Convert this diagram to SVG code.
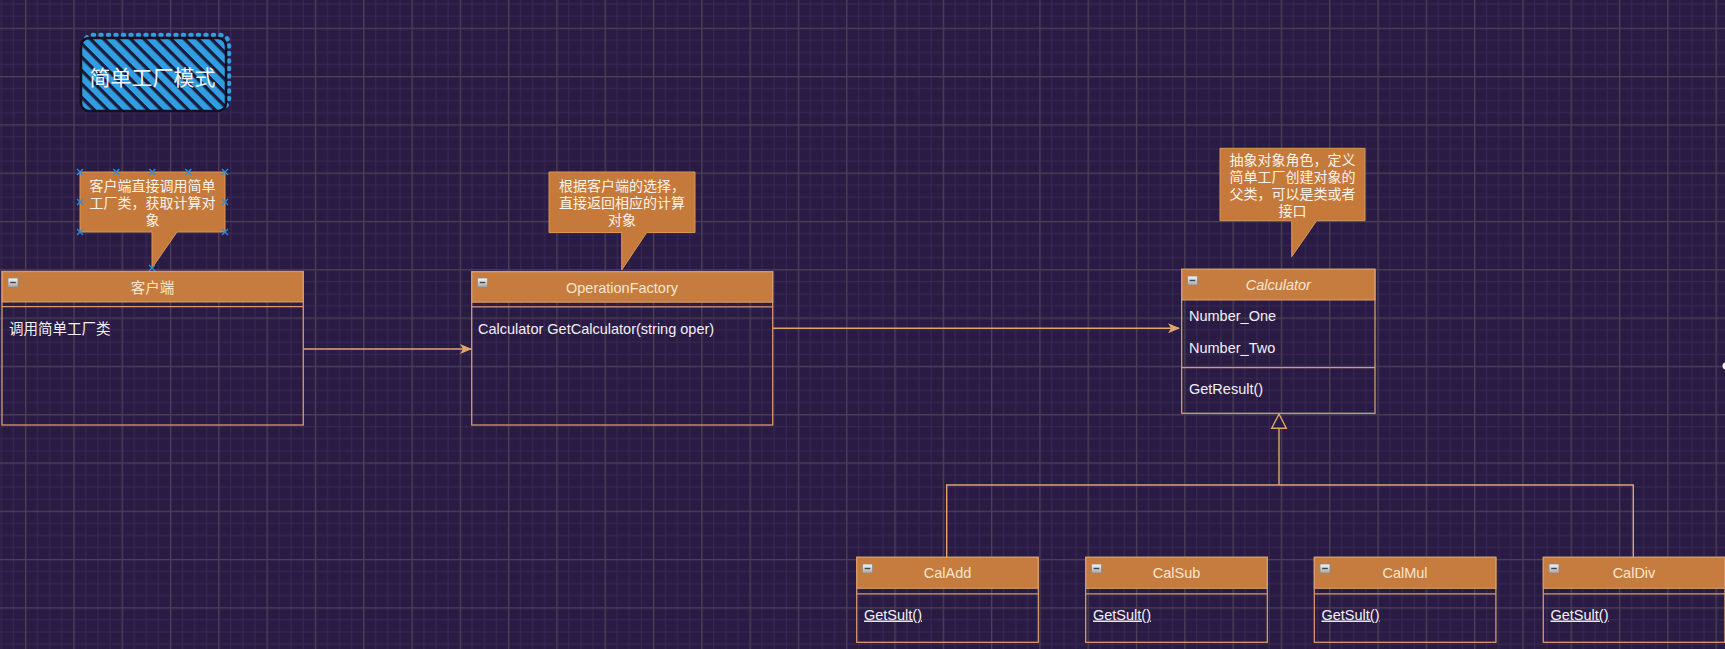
<svg xmlns="http://www.w3.org/2000/svg" width="1725" height="649" viewBox="0 0 1725 649">
  <defs>
    <pattern id="grid" x="25" y="27.7" width="48.3" height="48.3" patternUnits="userSpaceOnUse">
      <rect x="0" y="0" width="48.3" height="48.3" fill="#2a1b44"/>
      <g fill="#382a52">
        <rect x="12.07" y="0" width="1" height="48.3"/>
        <rect x="24.15" y="0" width="1" height="48.3"/>
        <rect x="36.22" y="0" width="1" height="48.3"/>
        <rect x="0" y="12.07" width="48.3" height="1"/>
        <rect x="0" y="24.15" width="48.3" height="1"/>
        <rect x="0" y="36.22" width="48.3" height="1"/>
      </g>
      <g fill="#4a4156">
        <rect x="0" y="0" width="1.3" height="48.3"/>
        <rect x="0" y="0" width="48.3" height="1.3"/>
      </g>
    </pattern>
    <pattern id="hatch" x="0" y="0" width="9.5" height="20" patternUnits="userSpaceOnUse" patternTransform="rotate(-45)">
      <rect x="0" y="0" width="9.5" height="20" fill="#1d1a3c"/>
      <rect x="0" y="0" width="6.2" height="20" fill="#2f9fe2"/>
    </pattern>
    <linearGradient id="btn" x1="0" y1="0" x2="0" y2="1">
      <stop offset="0" stop-color="#f6f6f6"/>
      <stop offset="1" stop-color="#a9a9a9"/>
    </linearGradient>
    <marker id="arrow" viewBox="0 0 12 10" refX="11" refY="5" markerWidth="12" markerHeight="10" markerUnits="userSpaceOnUse" orient="auto">
      <path d="M0,0 L12,5 L0,10 L3,5 Z" fill="#e0a66c"/>
    </marker>
    <g id="minus">
      <rect x="0" y="0" width="10" height="9" rx="1" fill="url(#btn)" stroke="#8a8a8a" stroke-width="0.8"/>
      <line x1="2.2" y1="4.5" x2="7.8" y2="4.5" stroke="#444" stroke-width="1.4"/>
    </g>
    <g id="xmark">
      <path d="M-3,-3 L3,3 M-3,3 L3,-3" stroke="#2b8fe0" stroke-width="1.3" fill="none"/>
    </g>
  </defs>
  <style>
    .t { font-family: "Liberation Sans", "Noto Sans CJK SC", sans-serif; }
    .hdr { fill: #c67c3e; stroke: #dca070; stroke-width: 1; }
    .box { fill: none; stroke: #d59a6a; stroke-width: 1.3; }
    .sep { stroke: #d59a6a; stroke-width: 1.3; }
    .title { font-size: 14.5px; fill: #f8e6d0; text-anchor: middle; }
    .body { font-size: 14.5px; fill: #f2f0f4; }
    .callout { fill: #c57a3b; stroke: #d89658; stroke-width: 1; }
    .ctext { font-size: 14px; fill: #fbf3ea; text-anchor: middle; }
    .conn { fill: none; stroke: #e0a66c; stroke-width: 1.4; }
  </style>

  <rect x="0" y="0" width="1725" height="649" fill="url(#grid)"/>

  <!-- Title -->
  <g id="title">
    <rect x="84" y="35" width="145" height="73" rx="9" fill="none" stroke="#2f9fe2" stroke-width="4.5" stroke-dasharray="1 6.5" stroke-linecap="round"/>
    <rect x="81" y="38" width="145" height="73" rx="8" fill="url(#hatch)" stroke="#150f22" stroke-width="2.5"/>
    <text class="t" x="152.5" y="85" font-size="21" fill="#f4f4f4" text-anchor="middle">简单工厂模式</text>
  </g>

  <!-- Callouts -->
  <g id="callout-client">
    <path class="callout" d="M80,172 H225 V232 H177 L152,268 V232 H80 Z"/>
    <text class="t ctext" x="152.5" y="191">客户端直接调用简单</text>
    <text class="t ctext" x="152.5" y="208">工厂类，获取计算对</text>
    <text class="t ctext" x="152.5" y="225">象</text>
    <use href="#xmark" x="80" y="172"/>
    <use href="#xmark" x="116.3" y="172"/>
    <use href="#xmark" x="152.3" y="172"/>
    <use href="#xmark" x="188.3" y="172"/>
    <use href="#xmark" x="225" y="172"/>
    <use href="#xmark" x="80" y="202"/>
    <use href="#xmark" x="225" y="202"/>
    <use href="#xmark" x="80" y="232"/>
    <use href="#xmark" x="225" y="232"/>
    <use href="#xmark" x="152" y="268"/>
  </g>

  <g id="callout-factory">
    <path class="callout" d="M549,172 H695 V232.5 H646.7 L621.7,270 V232.5 H549 Z"/>
    <text class="t ctext" x="622" y="191">根据客户端的选择，</text>
    <text class="t ctext" x="622" y="208">直接返回相应的计算</text>
    <text class="t ctext" x="622" y="225">对象</text>
  </g>

  <g id="callout-calculator">
    <path class="callout" d="M1220,148.3 H1365 V220.7 H1316.7 L1291.7,256.7 V220.7 H1220 Z"/>
    <text class="t ctext" x="1292.5" y="165">抽象对象角色，定义</text>
    <text class="t ctext" x="1292.5" y="182">简单工厂创建对象的</text>
    <text class="t ctext" x="1292.5" y="199">父类，可以是类或者</text>
    <text class="t ctext" x="1292.5" y="216">接口</text>
  </g>

  <!-- Connectors -->
  <g id="connectors">
    <line class="conn" x1="303.3" y1="349" x2="471" y2="349" marker-end="url(#arrow)"/>
    <line class="conn" x1="772.7" y1="328.3" x2="1179" y2="328.3" marker-end="url(#arrow)"/>
    <path class="conn" d="M946.7,557.3 V485 H1633.3 V557.3"/>
    <path class="conn" d="M1279,485 V428.3"/>
    <polygon points="1279,414 1271.7,428.3 1286.3,428.3" fill="#2a1b44" stroke="#e0a66c" stroke-width="1.4"/>
  </g>

  <!-- Client class -->
  <g id="class-client">
    <rect class="hdr" x="2" y="271.5" width="301.3" height="30.5"/>
    <rect class="box" x="2" y="271.5" width="301.3" height="153.5"/>
    <line class="sep" x1="2" y1="306.7" x2="303.3" y2="306.7"/>
    <use href="#minus" x="8" y="278"/>
    <text class="t title" x="152.5" y="293">客户端</text>
    <text class="t body" x="9" y="334">调用简单工厂类</text>
  </g>

  <!-- OperationFactory class -->
  <g id="class-factory">
    <rect class="hdr" x="471.7" y="271.7" width="301" height="30.5"/>
    <rect class="box" x="471.7" y="271.7" width="301" height="153.3"/>
    <line class="sep" x1="471.7" y1="306.9" x2="772.7" y2="306.9"/>
    <use href="#minus" x="477.5" y="278"/>
    <text class="t title" x="622" y="293">OperationFactory</text>
    <text class="t body" x="478" y="334">Calculator GetCalculator(string oper)</text>
  </g>

  <!-- Calculator class -->
  <g id="class-calculator">
    <rect class="hdr" x="1181.7" y="269.3" width="193.3" height="30.7"/>
    <rect class="box" x="1181.7" y="269.3" width="193.3" height="144"/>
    <line class="sep" x1="1181.7" y1="367.7" x2="1375" y2="367.7"/>
    <use href="#minus" x="1187.5" y="276"/>
    <text class="t title" x="1278.3" y="289.5" font-style="italic">Calculator</text>
    <text class="t body" x="1189" y="321">Number_One</text>
    <text class="t body" x="1189" y="352.5">Number_Two</text>
    <text class="t body" x="1189" y="393.5">GetResult()</text>
  </g>

  <!-- Subclasses -->
  <g id="class-caladd">
    <rect class="hdr" x="856.7" y="557.3" width="181.6" height="31"/>
    <rect class="box" x="856.7" y="557.3" width="181.6" height="85"/>
    <line class="sep" x1="856.7" y1="593.8" x2="1038.3" y2="593.8"/>
    <use href="#minus" x="862.5" y="564"/>
    <text class="t title" x="947.5" y="578">CalAdd</text>
    <text class="t body" x="864" y="619.5" text-decoration="underline">GetSult()</text>
  </g>

  <g id="class-calsub">
    <rect class="hdr" x="1085.7" y="557.3" width="181.6" height="31"/>
    <rect class="box" x="1085.7" y="557.3" width="181.6" height="85"/>
    <line class="sep" x1="1085.7" y1="593.8" x2="1267.3" y2="593.8"/>
    <use href="#minus" x="1091.5" y="564"/>
    <text class="t title" x="1176.5" y="578">CalSub</text>
    <text class="t body" x="1093" y="619.5" text-decoration="underline">GetSult()</text>
  </g>

  <g id="class-calmul">
    <rect class="hdr" x="1314.3" y="557.3" width="181.6" height="31"/>
    <rect class="box" x="1314.3" y="557.3" width="181.6" height="85"/>
    <line class="sep" x1="1314.3" y1="593.8" x2="1495.9" y2="593.8"/>
    <use href="#minus" x="1320" y="564"/>
    <text class="t title" x="1405" y="578">CalMul</text>
    <text class="t body" x="1321.5" y="619.5" text-decoration="underline">GetSult()</text>
  </g>

  <g id="class-caldiv">
    <rect class="hdr" x="1543.3" y="557.3" width="181.6" height="31"/>
    <rect class="box" x="1543.3" y="557.3" width="181.6" height="85"/>
    <line class="sep" x1="1543.3" y1="593.8" x2="1725" y2="593.8"/>
    <use href="#minus" x="1549" y="564"/>
    <text class="t title" x="1634" y="578">CalDiv</text>
    <text class="t body" x="1550.5" y="619.5" text-decoration="underline">GetSult()</text>
  </g>

  <circle cx="1726" cy="366" r="3.5" fill="#f2f2f2"/>
</svg>
